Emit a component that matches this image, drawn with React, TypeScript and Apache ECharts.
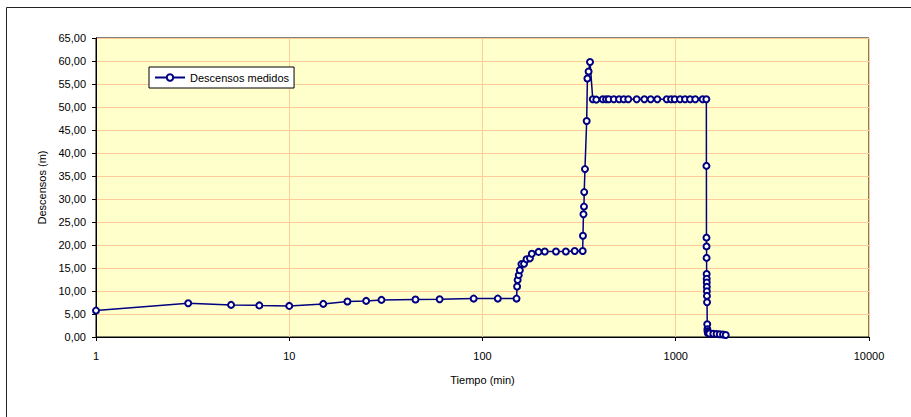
import React, { useEffect, useRef } from "react";
import * as echarts from "echarts";

const seriesName = "Descensos medidos";
const xAxisTitle = "Tiempo (min)";
const yAxisTitle = "Descensos (m)";

const times: number[] = [
  1, 3, 5, 7, 10, 15, 20, 25, 30, 45, 60, 90, 120, 150,
  151, 152, 154, 156, 159, 164, 169, 176, 180, 195, 210, 240, 270, 300, 330,
  331, 333, 335, 336, 339, 346, 349, 354, 360,
  372, 388, 419, 436, 450, 478, 509, 538, 568, 628, 688, 742, 803, 898, 946, 988,
  1052, 1117, 1186, 1262, 1377, 1440,
  1441, 1442, 1443, 1444, 1445, 1446, 1447, 1448, 1449, 1450, 1452, 1455, 1458, 1461, 1465, 1470,
  1492, 1564, 1627, 1690, 1756, 1814,
];

const descensos: number[] = [
  5.74, 7.35, 6.98, 6.87, 6.76, 7.2, 7.7, 7.85, 8.07, 8.14, 8.2, 8.35, 8.35, 8.35,
  10.97, 12.4, 13.45, 14.5, 15.85, 15.9, 16.9, 17.1, 18.1, 18.5, 18.6, 18.6, 18.6, 18.7, 18.7,
  22.0, 26.7, 28.35, 31.5, 36.5, 46.96, 56.2, 57.7, 59.8,
  51.7, 51.6, 51.7, 51.7, 51.7, 51.7, 51.7, 51.7, 51.7, 51.7, 51.7, 51.7, 51.7, 51.7, 51.7, 51.7,
  51.7, 51.7, 51.7, 51.7, 51.7, 51.7,
  37.2, 21.6, 19.7, 17.2, 13.7, 12.65, 11.85, 10.9, 9.96, 8.94, 7.57, 2.77, 1.67, 1.24, 0.9, 0.8,
  0.75, 0.7, 0.65, 0.6, 0.55, 0.45,
];

const FONT = "Liberation Sans, Arial, sans-serif";

export default function App() {
  const ref = useRef<HTMLDivElement>(null);
  useEffect(() => {
    if (!ref.current) return;
    const chart = echarts.init(ref.current, null, { renderer: "svg" });
    const data = times.map((t, i) => [t, descensos[i]]);
    chart.setOption({
      animation: false,
      backgroundColor: "#ffffff",
      textStyle: { fontFamily: FONT },
      graphic: [
        {
          type: "rect",
          shape: { x: 6.5, y: 7.5, width: 940, height: 440 },
          style: { fill: "none", stroke: "#222", lineWidth: 1 },
          silent: true,
          z: 0,
        },
      ],
      grid: {
        left: 96,
        top: 38,
        right: 42,
        bottom: 80,
        show: true,
        backgroundColor: "#FFFFCC",
        borderColor: "#000",
        borderWidth: 1,
      },
      legend: {
        show: true,
        left: 149,
        top: 67,
        orient: "horizontal",
        backgroundColor: "#ffffff",
        borderColor: "#000",
        borderWidth: 1,
        borderRadius: 0,
        padding: [5, 5],
        itemWidth: 30,
        itemHeight: 8,
        itemGap: 5,
        textStyle: { fontFamily: FONT, fontSize: 11, color: "#000" },
        data: [seriesName],
      },
      xAxis: {
        type: "log",
        logBase: 10,
        min: 1,
        max: 10000,
        name: xAxisTitle,
        nameLocation: "middle",
        nameGap: 37,
        nameTextStyle: { fontFamily: FONT, fontSize: 11, color: "#000" },
        axisLine: { show: true, lineStyle: { color: "#000", width: 1 } },
        axisTick: { show: true, length: 4, lineStyle: { color: "#000" } },
        axisLabel: {
          fontFamily: FONT,
          fontSize: 11,
          color: "#000",
          margin: 13,
          formatter: (v: number) => String(Math.round(v)),
        },
        splitLine: { show: true, lineStyle: { color: "#FFCC99", width: 1 } },
        minorTick: { show: false },
        minorSplitLine: { show: false },
      },
      yAxis: {
        type: "value",
        min: 0,
        max: 65,
        interval: 5,
        name: yAxisTitle,
        nameLocation: "middle",
        nameGap: 46,
        nameTextStyle: { fontFamily: FONT, fontSize: 11, color: "#000" },
        axisLine: { show: true, lineStyle: { color: "#000", width: 1 } },
        axisTick: { show: true, length: 4, lineStyle: { color: "#000" } },
        axisLabel: {
          fontFamily: FONT,
          fontSize: 11,
          color: "#000",
          margin: 10,
          formatter: (v: number) => v.toFixed(2).replace(".", ","),
        },
        splitLine: { show: true, lineStyle: { color: "#FFCC99", width: 1 } },
      },
      series: [
        {
          name: seriesName,
          type: "line",
          data,
          symbol: "emptyCircle",
          symbolSize: 6,
          showAllSymbol: true,
          lineStyle: { color: "#000080", width: 1.5 },
          itemStyle: { color: "#000080", borderColor: "#000080", borderWidth: 1.5 },
          emphasis: { disabled: true },
        },
      ],
    });
    return () => chart.dispose();
  }, []);
  return (
    <div
      ref={ref}
      style={{ position: "absolute", left: 0, top: 0, width: 911, height: 417 }}
    />
  );
}
